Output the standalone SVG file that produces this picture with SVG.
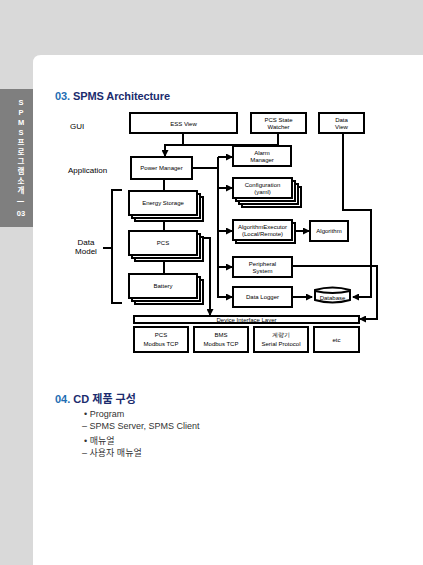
<svg xmlns="http://www.w3.org/2000/svg" width="423" height="565" viewBox="0 0 423 565">
<defs>
<marker id="ah" markerWidth="7" markerHeight="7" refX="6" refY="3.5" orient="auto" markerUnits="userSpaceOnUse">
<path d="M0,0 L7,3.5 L0,7 Z" fill="#000"/>
</marker>
<style>
.bx{fill:#fff;stroke:#000;stroke-width:2}
.ln{fill:none;stroke:#000;stroke-width:2}
.lb{font-family:"Liberation Sans",Arial,sans-serif;font-size:6px;fill:#000;text-anchor:middle}
.lab{font-family:"Liberation Sans",Arial,sans-serif;font-size:8px;fill:#000}
.side{font-family:"Liberation Sans","Noto Sans CJK KR",sans-serif;font-size:7.5px;fill:#fff;text-anchor:middle;font-weight:bold}
.body{font-family:"Liberation Sans","Noto Sans CJK KR",sans-serif;font-size:9px;fill:#333}
</style>
</defs>
<g id="background">
<rect x="0" y="0" width="423" height="565" fill="#d9d9d9"/>
<path d="M41,55 H423 V565 H33 V63 Q33,55 41,55 Z" fill="#fff"/>
<rect x="0" y="89" width="33" height="138" fill="#7f7f7f"/>
<text class="side" x="21" y="105">S</text>
<text class="side" x="21" y="115">P</text>
<text class="side" x="21" y="125">M</text>
<text class="side" x="21" y="135">S</text>
<text class="side" x="21" y="145">프</text>
<text class="side" x="21" y="155">로</text>
<text class="side" x="21" y="164">그</text>
<text class="side" x="21" y="174">램</text>
<text class="side" x="21" y="184">소</text>
<text class="side" x="21" y="193">개</text>
<text class="side" x="21" y="204" transform="rotate(90 21 201.5)">|</text>
<text class="side" x="21" y="216" font-size="8">03</text>
</g>
<g id="titles">
<text x="55" y="100" font-family="'Liberation Sans',Arial,sans-serif" font-size="11" font-weight="bold" textLength="115"><tspan fill="#1e6db3">03.</tspan><tspan fill="#1b2c6e"> SPMS Architecture</tspan></text>
<text class="lab" x="70" y="129">GUI</text>
<text class="lab" x="68" y="173">Application</text>
<text class="lab" x="86" y="245" text-anchor="middle">Data</text>
<text class="lab" x="86" y="254" text-anchor="middle">Model</text>
</g>
<g id="connectors">
<path class="ln" d="M183,133 V145 M164,145 H278 V133"/>
<path class="ln" d="M165,145 V156" marker-end="url(#ah)"/>
<path class="ln" d="M192,168 H218 M218,157 V297"/>
<path class="ln" d="M218,157 H232" marker-end="url(#ah)"/>
<path class="ln" d="M218,188 H232" marker-end="url(#ah)"/>
<path class="ln" d="M218,231 H232" marker-end="url(#ah)"/>
<path class="ln" d="M218,267 H232" marker-end="url(#ah)"/>
<path class="ln" d="M217,297 H232" marker-end="url(#ah)"/>
<path class="ln" d="M164,179 V274"/>
<path class="ln" d="M203,238 H210 V315" marker-end="url(#ah)"/>
<path class="ln" d="M295,231 H309" marker-end="url(#ah)"/>
<path class="ln" d="M292,297 H312" marker-end="url(#ah)"/>
<path class="ln" d="M343,133 V210 H371 V297 H353" marker-end="url(#ah)"/>
<path class="ln" d="M292,266 H377 V319 H360" marker-end="url(#ah)"/>
<path class="ln" d="M122,190 H112 V303 H122 M103,248 H112"/>
</g>
<g id="ess-view"><rect class="bx" x="130" y="113" width="107" height="20"/><text class="lb" x="183.5" y="125.5">ESS View</text></g>
<g id="pcs-state-watcher"><rect class="bx" x="251" y="113" width="55" height="20"/><text class="lb" x="278.5" y="121.5">PCS State</text><text class="lb" x="278.5" y="129">Watcher</text></g>
<g id="data-view"><rect class="bx" x="319" y="113" width="45" height="20"/><text class="lb" x="341.5" y="121.5">Data</text><text class="lb" x="341.5" y="129">View</text></g>
<g id="alarm-manager"><rect class="bx" x="233" y="146" width="58" height="20"/><text class="lb" x="262" y="154.5">Alarm</text><text class="lb" x="262" y="162">Manager</text></g>
<g id="power-manager"><rect class="bx" x="131" y="157" width="61" height="22"/><text class="lb" x="161.5" y="170">Power Manager</text></g>
<g id="configuration">
<rect class="bx" x="242" y="187" width="59" height="20"/>
<rect class="bx" x="239" y="184" width="59" height="20"/>
<rect class="bx" x="236" y="181" width="59" height="20"/>
<rect class="bx" x="233" y="178" width="59" height="20"/>
<text class="lb" x="262.5" y="186.5">Configuration</text><text class="lb" x="262.5" y="194">(yaml)</text></g>
<g id="energy-storage">
<rect class="bx" x="135" y="197" width="68" height="24"/>
<rect class="bx" x="132" y="194" width="68" height="24"/>
<rect class="bx" x="129" y="191" width="68" height="24"/>
<text class="lb" x="163" y="205">Energy Storage</text></g>
<g id="pcs">
<rect class="bx" x="135" y="237" width="68" height="24"/>
<rect class="bx" x="132" y="234" width="68" height="24"/>
<rect class="bx" x="129" y="231" width="68" height="24"/>
<text class="lb" x="163" y="245">PCS</text></g>
<g id="battery">
<rect class="bx" x="135" y="280" width="68" height="24"/>
<rect class="bx" x="132" y="277" width="68" height="24"/>
<rect class="bx" x="129" y="274" width="68" height="24"/>
<text class="lb" x="163" y="288">Battery</text></g>
<g id="algorithm-executor">
<rect class="bx" x="236" y="223" width="59" height="20"/>
<rect class="bx" x="233" y="220" width="59" height="20"/>
<text class="lb" x="262.5" y="228.5">AlgorithmExecutor</text><text class="lb" x="262.5" y="236">(Local/Remote)</text></g>
<g id="algorithm"><rect class="bx" x="310" y="221" width="38" height="20"/><text class="lb" x="329" y="233">Algorithm</text></g>
<g id="peripheral-system"><rect class="bx" x="233" y="257" width="59" height="20"/><text class="lb" x="262.5" y="265.5">Peripheral</text><text class="lb" x="262.5" y="273">System</text></g>
<g id="data-logger"><rect class="bx" x="233" y="287" width="59" height="20"/><text class="lb" x="262.5" y="299">Data Logger</text></g>
<g id="database">
<path class="bx" d="M315,290 Q332.5,285 350,290 V300 Q332.5,305 315,300 Z"/>
<path class="ln" d="M315,291 Q332.5,295 350,291"/>
<text class="lb" x="332.5" y="299.5" font-size="5">Database</text></g>
<g id="device-interface-layer"><rect class="bx" x="134" y="316" width="225" height="7"/><text class="lb" x="246.5" y="321.8" font-size="5.5">Device Interface Layer</text></g>
<g id="pcs-modbus"><rect class="bx" x="134" y="327" width="54" height="25"/><text class="lb" x="161" y="337">PCS</text><text class="lb" x="161" y="346">Modbus TCP</text></g>
<g id="bms-modbus"><rect class="bx" x="194" y="327" width="54" height="25"/><text class="lb" x="221" y="337">BMS</text><text class="lb" x="221" y="346">Modbus TCP</text></g>
<g id="meter"><rect class="bx" x="254" y="327" width="54" height="25"/><text class="lb" x="281" y="337" font-family="'Noto Sans CJK KR',sans-serif">계량기</text><text class="lb" x="281" y="346">Serial  Protocol</text></g>
<g id="etc"><rect class="bx" x="314" y="327" width="45" height="25"/><text class="lb" x="336.5" y="342">etc</text></g>
<g id="section-04">
<text x="55" y="403" font-family="'Liberation Sans','Noto Sans CJK KR',sans-serif" font-size="11" font-weight="bold"><tspan fill="#1e6db3">04.</tspan><tspan fill="#1b2c6e"> CD 제품 구성</tspan></text>
<text class="body" x="84" y="417">• Program</text>
<text class="body" x="82" y="429">–  SPMS Server, SPMS Client</text>
<text class="body" x="84" y="444">• 매뉴얼</text>
<text class="body" x="82" y="456">–  사용자 매뉴얼</text>
</g>
</svg>
